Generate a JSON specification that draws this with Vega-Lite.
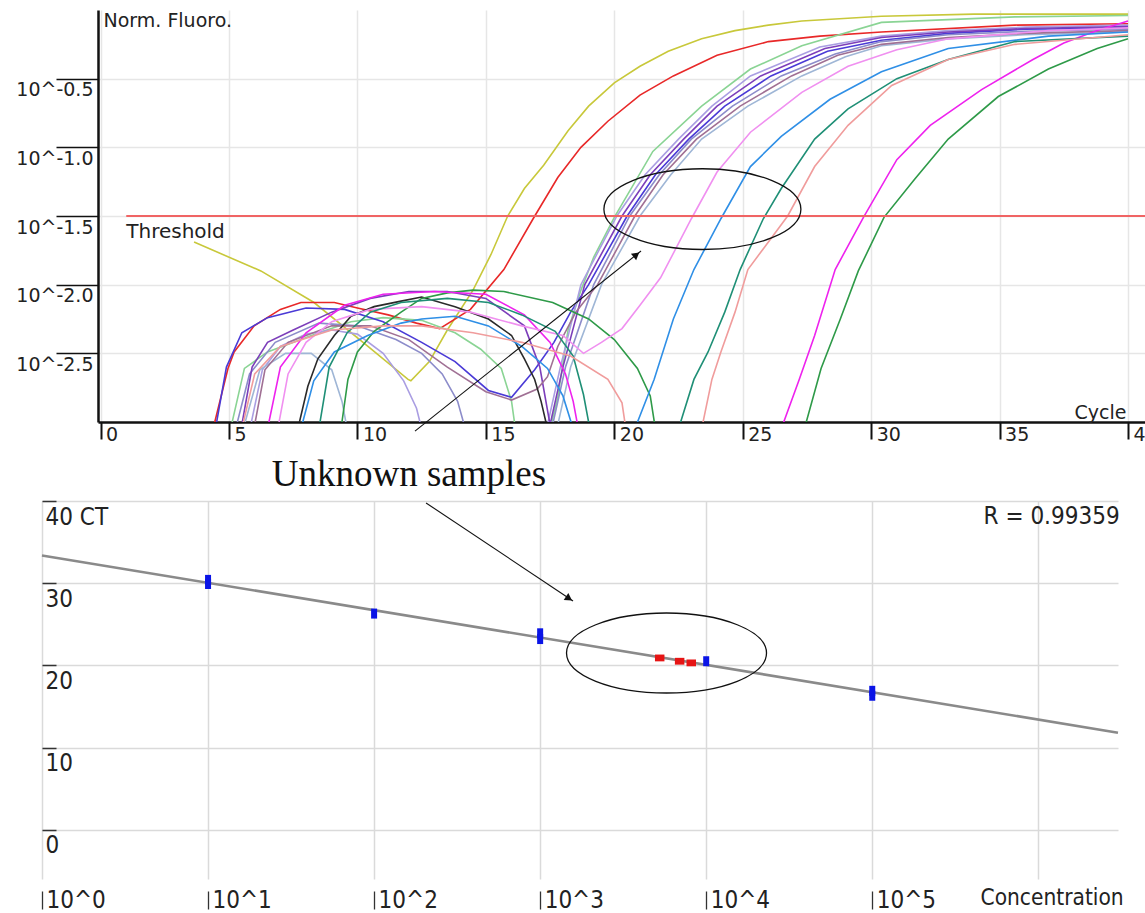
{
"$schema": "https://vega.github.io/schema/vega-lite/v6.json",
"background": "white",
"padding": {"left": 15, "top": 10, "right": 0, "bottom": 0},
"config": {"view": {"stroke": null}},
"resolve": {"scale": {"color": "independent", "shape": "independent"}},
"datasets": {
"curves": [
{"s":"yellow","c":3.64,"f":-1.69},{"s":"yellow","c":6.24,"f":-1.9},{"s":"yellow","c":8.31,"f":-2.13},{"s":"yellow","c":10.41,"f":-2.45},{"s":"yellow","c":11.97,"f":-2.69},{"s":"yellow","c":12.08,"f":-2.7},{"s":"yellow","c":12.8,"f":-2.56},{"s":"yellow","c":13.5,"f":-2.33},{"s":"yellow","c":14.5,"f":-2.04},{"s":"yellow","c":15.2,"f":-1.78},{"s":"yellow","c":15.85,"f":-1.5},{"s":"yellow","c":16.5,"f":-1.3},{"s":"yellow","c":17.25,"f":-1.13},{"s":"yellow","c":18.2,"f":-0.88},{"s":"yellow","c":19,"f":-0.7},{"s":"yellow","c":20,"f":-0.53},{"s":"yellow","c":21,"f":-0.41},{"s":"yellow","c":22.1,"f":-0.3},{"s":"yellow","c":23.4,"f":-0.21},{"s":"yellow","c":24.7,"f":-0.15},{"s":"yellow","c":26,"f":-0.11},{"s":"yellow","c":27.3,"f":-0.08},{"s":"yellow","c":30.4,"f":-0.045},{"s":"yellow","c":34,"f":-0.03},{"s":"yellow","c":40,"f":-0.03},
{"s":"red","c":4.42,"f":-3.02},{"s":"red","c":4.96,"f":-2.61},{"s":"red","c":5.2,"f":-2.49},{"s":"red","c":5.98,"f":-2.3},{"s":"red","c":7.0,"f":-2.18},{"s":"red","c":7.8,"f":-2.13},{"s":"red","c":9.1,"f":-2.13},{"s":"red","c":10.0,"f":-2.17},{"s":"red","c":11.2,"f":-2.22},{"s":"red","c":12.3,"f":-2.28},{"s":"red","c":13.2,"f":-2.32},{"s":"red","c":14.4,"f":-2.18},{"s":"red","c":15.7,"f":-1.89},{"s":"red","c":16.84,"f":-1.52},{"s":"red","c":17.8,"f":-1.22},{"s":"red","c":18.7,"f":-1.0},{"s":"red","c":19.75,"f":-0.81},{"s":"red","c":21,"f":-0.62},{"s":"red","c":22.3,"f":-0.48},{"s":"red","c":24,"f":-0.33},{"s":"red","c":26,"f":-0.23},{"s":"red","c":28,"f":-0.19},{"s":"red","c":30.4,"f":-0.16},{"s":"red","c":35.6,"f":-0.11},{"s":"red","c":40,"f":-0.1},
{"s":"lgreen","c":5.1,"f":-3.02},{"s":"lgreen","c":5.6,"f":-2.61},{"s":"lgreen","c":6.5,"f":-2.49},{"s":"lgreen","c":8.5,"f":-2.35},{"s":"lgreen","c":9.75,"f":-2.27},{"s":"lgreen","c":11,"f":-2.24},{"s":"lgreen","c":12.5,"f":-2.26},{"s":"lgreen","c":13.8,"f":-2.35},{"s":"lgreen","c":14.8,"f":-2.47},{"s":"lgreen","c":15.6,"f":-2.61},{"s":"lgreen","c":16,"f":-2.85},{"s":"lgreen","c":16.15,"f":-3.05},{"s":"lgreen","c":16.8,"f":-3.6},{"s":"lgreen","c":17.5,"f":-3.05},{"s":"lgreen","c":17.8,"f":-2.82},{"s":"lgreen","c":18.2,"f":-2.33},{"s":"lgreen","c":18.7,"f":-2.04},{"s":"lgreen","c":19.2,"f":-1.8},{"s":"lgreen","c":20,"f":-1.51},{"s":"lgreen","c":21.5,"f":-1.03},{"s":"lgreen","c":23.4,"f":-0.7},{"s":"lgreen","c":25.3,"f":-0.43},{"s":"lgreen","c":27.3,"f":-0.26},{"s":"lgreen","c":30.4,"f":-0.09},{"s":"lgreen","c":35.6,"f":-0.05},{"s":"lgreen","c":40,"f":-0.04},
{"s":"c1","c":4.5,"f":-3.02},{"s":"c1","c":4.9,"f":-2.6},{"s":"c1","c":5.5,"f":-2.35},{"s":"c1","c":6.5,"f":-2.24},{"s":"c1","c":8,"f":-2.17},{"s":"c1","c":9.5,"f":-2.18},{"s":"c1","c":11,"f":-2.27},{"s":"c1","c":12.5,"f":-2.42},{"s":"c1","c":13.8,"f":-2.56},{"s":"c1","c":15.1,"f":-2.77},{"s":"c1","c":16,"f":-2.82},{"s":"c1","c":16.9,"f":-2.62},{"s":"c1","c":17.65,"f":-2.42},{"s":"c1","c":18.3,"f":-2.2},{"s":"c1","c":19,"f":-2.0},{"s":"c1","c":20.5,"f":-1.5},{"s":"c1","c":21.6,"f":-1.2},{"s":"c1","c":22.9,"f":-0.94},{"s":"c1","c":24.3,"f":-0.7},{"s":"c1","c":26.1,"f":-0.48},{"s":"c1","c":28.3,"f":-0.3},{"s":"c1","c":30.4,"f":-0.22},{"s":"c1","c":33,"f":-0.17},{"s":"c1","c":36,"f":-0.14},{"s":"c1","c":40,"f":-0.13},
{"s":"c2","c":5.85,"f":-3.02},{"s":"c2","c":6.3,"f":-2.62},{"s":"c2","c":7,"f":-2.45},{"s":"c2","c":8,"f":-2.36},{"s":"c2","c":9,"f":-2.33},{"s":"c2","c":10,"f":-2.36},{"s":"c2","c":11,"f":-2.5},{"s":"c2","c":11.8,"f":-2.7},{"s":"c2","c":12.3,"f":-2.9},{"s":"c2","c":12.5,"f":-3.05},{"s":"c2","c":15,"f":-3.6},{"s":"c2","c":17.4,"f":-3.02},{"s":"c2","c":17.9,"f":-2.6},{"s":"c2","c":18.7,"f":-2.0},{"s":"c2","c":20.1,"f":-1.5},{"s":"c2","c":21.2,"f":-1.2},{"s":"c2","c":22.5,"f":-0.94},{"s":"c2","c":23.8,"f":-0.7},{"s":"c2","c":25.3,"f":-0.48},{"s":"c2","c":28,"f":-0.27},{"s":"c2","c":30.4,"f":-0.19},{"s":"c2","c":33,"f":-0.15},{"s":"c2","c":36,"f":-0.125},{"s":"c2","c":40,"f":-0.11},
{"s":"c3","c":5.3,"f":-3.02},{"s":"c3","c":5.8,"f":-2.65},{"s":"c3","c":6.8,"f":-2.42},{"s":"c3","c":8.5,"f":-2.28},{"s":"c3","c":10,"f":-2.3},{"s":"c3","c":11.5,"f":-2.4},{"s":"c3","c":12.5,"f":-2.5},{"s":"c3","c":13.3,"f":-2.65},{"s":"c3","c":13.9,"f":-2.85},{"s":"c3","c":14.2,"f":-3.05},{"s":"c3","c":16,"f":-3.6},{"s":"c3","c":17.6,"f":-3.02},{"s":"c3","c":18.1,"f":-2.6},{"s":"c3","c":19.2,"f":-2.0},{"s":"c3","c":20.6,"f":-1.5},{"s":"c3","c":21.75,"f":-1.2},{"s":"c3","c":23.0,"f":-0.94},{"s":"c3","c":24.6,"f":-0.7},{"s":"c3","c":26.5,"f":-0.48},{"s":"c3","c":28.6,"f":-0.32},{"s":"c3","c":30.4,"f":-0.23},{"s":"c3","c":33,"f":-0.18},{"s":"c3","c":36,"f":-0.155},{"s":"c3","c":40,"f":-0.14},
{"s":"c4","c":5.6,"f":-3.02},{"s":"c4","c":6.2,"f":-2.62},{"s":"c4","c":7.2,"f":-2.5},{"s":"c4","c":8.2,"f":-2.5},{"s":"c4","c":9,"f":-2.62},{"s":"c4","c":9.4,"f":-2.85},{"s":"c4","c":9.6,"f":-3.05},{"s":"c4","c":13,"f":-3.6},{"s":"c4","c":17.8,"f":-3.02},{"s":"c4","c":18.3,"f":-2.6},{"s":"c4","c":19.5,"f":-2.0},{"s":"c4","c":21.0,"f":-1.5},{"s":"c4","c":22.2,"f":-1.2},{"s":"c4","c":23.4,"f":-0.94},{"s":"c4","c":25.2,"f":-0.7},{"s":"c4","c":27.3,"f":-0.48},{"s":"c4","c":29,"f":-0.34},{"s":"c4","c":30.4,"f":-0.26},{"s":"c4","c":33,"f":-0.21},{"s":"c4","c":36,"f":-0.18},{"s":"c4","c":40,"f":-0.16},
{"s":"c5","c":5.5,"f":-3.02},{"s":"c5","c":5.9,"f":-2.6},{"s":"c5","c":6.5,"f":-2.42},{"s":"c5","c":7.5,"f":-2.33},{"s":"c5","c":9,"f":-2.2},{"s":"c5","c":10.5,"f":-2.1},{"s":"c5","c":12,"f":-2.05},{"s":"c5","c":13.5,"f":-2.05},{"s":"c5","c":15,"f":-2.1},{"s":"c5","c":16.5,"f":-2.3},{"s":"c5","c":17.1,"f":-2.6},{"s":"c5","c":17.5,"f":-3.02},{"s":"c5","c":18.0,"f":-2.6},{"s":"c5","c":18.85,"f":-2.0},{"s":"c5","c":20.3,"f":-1.5},{"s":"c5","c":21.4,"f":-1.2},{"s":"c5","c":22.7,"f":-0.94},{"s":"c5","c":24.0,"f":-0.7},{"s":"c5","c":25.7,"f":-0.48},{"s":"c5","c":28.2,"f":-0.28},{"s":"c5","c":30.4,"f":-0.2},{"s":"c5","c":33,"f":-0.16},{"s":"c5","c":36,"f":-0.135},{"s":"c5","c":40,"f":-0.12},
{"s":"c6","c":6.0,"f":-3.02},{"s":"c6","c":6.4,"f":-2.62},{"s":"c6","c":7.3,"f":-2.42},{"s":"c6","c":9,"f":-2.3},{"s":"c6","c":10.5,"f":-2.3},{"s":"c6","c":12,"f":-2.4},{"s":"c6","c":13.5,"f":-2.6},{"s":"c6","c":15,"f":-2.78},{"s":"c6","c":16,"f":-2.84},{"s":"c6","c":17,"f":-2.76},{"s":"c6","c":17.4,"f":-2.67},{"s":"c6","c":17.8,"f":-2.45},{"s":"c6","c":18.5,"f":-2.2},{"s":"c6","c":19.35,"f":-2.0},{"s":"c6","c":20.8,"f":-1.5},{"s":"c6","c":21.9,"f":-1.2},{"s":"c6","c":23.2,"f":-0.94},{"s":"c6","c":24.9,"f":-0.7},{"s":"c6","c":26.9,"f":-0.48},{"s":"c6","c":28.7,"f":-0.33},{"s":"c6","c":30.4,"f":-0.25},{"s":"c6","c":33,"f":-0.2},{"s":"c6","c":36,"f":-0.17},{"s":"c6","c":40,"f":-0.15},
{"s":"black","c":7.68,"f":-3.05},{"s":"black","c":8.07,"f":-2.74},{"s":"black","c":8.46,"f":-2.54},{"s":"black","c":9.1,"f":-2.37},{"s":"black","c":9.75,"f":-2.23},{"s":"black","c":10.65,"f":-2.16},{"s":"black","c":11.7,"f":-2.12},{"s":"black","c":12.5,"f":-2.09},{"s":"black","c":13.8,"f":-2.16},{"s":"black","c":15.1,"f":-2.25},{"s":"black","c":16,"f":-2.37},{"s":"black","c":16.5,"f":-2.54},{"s":"black","c":16.9,"f":-2.69},{"s":"black","c":17.15,"f":-2.85},{"s":"black","c":17.4,"f":-3.05},
{"s":"green","c":9.36,"f":-3.05},{"s":"green","c":9.63,"f":-2.69},{"s":"green","c":10.0,"f":-2.49},{"s":"green","c":10.65,"f":-2.34},{"s":"green","c":11.7,"f":-2.2},{"s":"green","c":12.5,"f":-2.1},{"s":"green","c":13.5,"f":-2.06},{"s":"green","c":14.5,"f":-2.04},{"s":"green","c":15.7,"f":-2.05},{"s":"green","c":17.6,"f":-2.13},{"s":"green","c":19,"f":-2.25},{"s":"green","c":20,"f":-2.4},{"s":"green","c":20.9,"f":-2.61},{"s":"green","c":21.4,"f":-2.81},{"s":"green","c":21.6,"f":-3.05},{"s":"green","c":24.5,"f":-3.6},{"s":"green","c":27.4,"f":-3.05},{"s":"green","c":28.05,"f":-2.61},{"s":"green","c":28.8,"f":-2.25},{"s":"green","c":29.5,"f":-1.9},{"s":"green","c":30.5,"f":-1.51},{"s":"green","c":31.7,"f":-1.23},{"s":"green","c":33,"f":-0.94},{"s":"green","c":34.95,"f":-0.63},{"s":"green","c":36.9,"f":-0.43},{"s":"green","c":38.8,"f":-0.28},{"s":"green","c":40,"f":-0.21},
{"s":"magenta","c":6.5,"f":-3.05},{"s":"magenta","c":7.0,"f":-2.6},{"s":"magenta","c":8.0,"f":-2.35},{"s":"magenta","c":9.5,"f":-2.15},{"s":"magenta","c":11,"f":-2.07},{"s":"magenta","c":13,"f":-2.05},{"s":"magenta","c":15,"f":-2.07},{"s":"magenta","c":16.5,"f":-2.22},{"s":"magenta","c":17.5,"f":-2.42},{"s":"magenta","c":18.1,"f":-2.65},{"s":"magenta","c":18.4,"f":-2.85},{"s":"magenta","c":18.6,"f":-3.05},{"s":"magenta","c":22.5,"f":-3.6},{"s":"magenta","c":26.5,"f":-3.05},{"s":"magenta","c":27.2,"f":-2.69},{"s":"magenta","c":27.8,"f":-2.37},{"s":"magenta","c":28.6,"f":-1.89},{"s":"magenta","c":29.7,"f":-1.51},{"s":"magenta","c":31,"f":-1.09},{"s":"magenta","c":32.3,"f":-0.84},{"s":"magenta","c":34.3,"f":-0.58},{"s":"magenta","c":36.3,"f":-0.36},{"s":"magenta","c":37.5,"f":-0.24},{"s":"magenta","c":38.8,"f":-0.15},{"s":"magenta","c":40,"f":-0.08},
{"s":"pink","c":6.9,"f":-3.05},{"s":"pink","c":7.3,"f":-2.65},{"s":"pink","c":8,"f":-2.42},{"s":"pink","c":9,"f":-2.27},{"s":"pink","c":10.5,"f":-2.18},{"s":"pink","c":12.5,"f":-2.16},{"s":"pink","c":14.4,"f":-2.2},{"s":"pink","c":16.4,"f":-2.3},{"s":"pink","c":18,"f":-2.37},{"s":"pink","c":18.8,"f":-2.5},{"s":"pink","c":19.5,"f":-2.42},{"s":"pink","c":20.3,"f":-2.32},{"s":"pink","c":21,"f":-2.15},{"s":"pink","c":21.8,"f":-1.95},{"s":"pink","c":22.5,"f":-1.7},{"s":"pink","c":23,"f":-1.52},{"s":"pink","c":24,"f":-1.18},{"s":"pink","c":25.3,"f":-0.89},{"s":"pink","c":27.3,"f":-0.6},{"s":"pink","c":29.1,"f":-0.41},{"s":"pink","c":31,"f":-0.29},{"s":"pink","c":33,"f":-0.21},{"s":"pink","c":36.9,"f":-0.15},{"s":"pink","c":40,"f":-0.13},
{"s":"blue","c":7.8,"f":-3.05},{"s":"blue","c":8.3,"f":-2.7},{"s":"blue","c":9.1,"f":-2.49},{"s":"blue","c":10.4,"f":-2.37},{"s":"blue","c":11.7,"f":-2.28},{"s":"blue","c":12.5,"f":-2.25},{"s":"blue","c":13.8,"f":-2.23},{"s":"blue","c":15.1,"f":-2.3},{"s":"blue","c":16.4,"f":-2.45},{"s":"blue","c":17.4,"f":-2.61},{"s":"blue","c":18.0,"f":-2.81},{"s":"blue","c":18.4,"f":-3.05},{"s":"blue","c":19.6,"f":-3.6},{"s":"blue","c":20.8,"f":-3.05},{"s":"blue","c":21.55,"f":-2.69},{"s":"blue","c":22.3,"f":-2.25},{"s":"blue","c":23.1,"f":-1.89},{"s":"blue","c":24.15,"f":-1.52},{"s":"blue","c":25.3,"f":-1.14},{"s":"blue","c":26.5,"f":-0.92},{"s":"blue","c":28.4,"f":-0.65},{"s":"blue","c":30.4,"f":-0.45},{"s":"blue","c":33,"f":-0.28},{"s":"blue","c":36.9,"f":-0.19},{"s":"blue","c":40,"f":-0.16},
{"s":"teal","c":8.5,"f":-3.05},{"s":"teal","c":8.9,"f":-2.6},{"s":"teal","c":9.6,"f":-2.35},{"s":"teal","c":10.5,"f":-2.2},{"s":"teal","c":11.7,"f":-2.13},{"s":"teal","c":13.5,"f":-2.1},{"s":"teal","c":15.1,"f":-2.13},{"s":"teal","c":16.4,"f":-2.22},{"s":"teal","c":17.7,"f":-2.34},{"s":"teal","c":18.4,"f":-2.52},{"s":"teal","c":18.8,"f":-2.8},{"s":"teal","c":19.05,"f":-3.05},{"s":"teal","c":20.8,"f":-3.6},{"s":"teal","c":22.5,"f":-3.05},{"s":"teal","c":23.1,"f":-2.69},{"s":"teal","c":23.65,"f":-2.49},{"s":"teal","c":24.3,"f":-2.2},{"s":"teal","c":24.9,"f":-1.89},{"s":"teal","c":25.8,"f":-1.52},{"s":"teal","c":26.5,"f":-1.3},{"s":"teal","c":27.8,"f":-0.94},{"s":"teal","c":29.1,"f":-0.72},{"s":"teal","c":31,"f":-0.5},{"s":"teal","c":33,"f":-0.36},{"s":"teal","c":35.6,"f":-0.23},{"s":"teal","c":40,"f":-0.19},
{"s":"salmon","c":5.5,"f":-3.05},{"s":"salmon","c":6,"f":-2.65},{"s":"salmon","c":7,"f":-2.45},{"s":"salmon","c":9,"f":-2.33},{"s":"salmon","c":11,"f":-2.3},{"s":"salmon","c":12.5,"f":-2.3},{"s":"salmon","c":14.5,"f":-2.35},{"s":"salmon","c":16.4,"f":-2.42},{"s":"salmon","c":18.3,"f":-2.52},{"s":"salmon","c":19.75,"f":-2.69},{"s":"salmon","c":20.3,"f":-2.86},{"s":"salmon","c":20.45,"f":-3.05},{"s":"salmon","c":22,"f":-3.6},{"s":"salmon","c":23.4,"f":-3.05},{"s":"salmon","c":23.8,"f":-2.69},{"s":"salmon","c":24.15,"f":-2.49},{"s":"salmon","c":24.7,"f":-2.2},{"s":"salmon","c":25.2,"f":-1.89},{"s":"salmon","c":26.75,"f":-1.5},{"s":"salmon","c":27.8,"f":-1.14},{"s":"salmon","c":29.1,"f":-0.84},{"s":"salmon","c":30.8,"f":-0.55},{"s":"salmon","c":33,"f":-0.36},{"s":"salmon","c":35.6,"f":-0.25},{"s":"salmon","c":40,"f":-0.18}
],
"threshold": [{"c":1.0,"c2":40.7,"f":-1.5}],
"thresholdLabel": [{"c":1.0,"f":-1.545,"label":"Threshold"}],
"ring1": [{"c":23.43,"f":-1.45}],
"arrow1": [{"c":12.24,"f":-3.066},{"c":21.04,"f":-1.755}],
"head1": [{"c":20.86,"f":-1.782}],
"fit": [{"logc":0,"ct":33.37},{"logc":6.48,"ct":11.8}],
"cts": [
{"logc":1,"ct":30.4,"kind":"standard"},{"logc":1,"ct":29.9,"kind":"standard"},{"logc":2,"ct":26.3,"kind":"standard"},{"logc":3,"ct":23.9,"kind":"standard"},{"logc":3,"ct":23.2,"kind":"standard"},{"logc":4,"ct":20.5,"kind":"standard"},{"logc":5,"ct":16.9,"kind":"standard"},{"logc":5,"ct":16.3,"kind":"standard"},
{"logc":3.72,"ct":20.9,"kind":"unknown"},{"logc":3.84,"ct":20.5,"kind":"unknown"},{"logc":3.91,"ct":20.3,"kind":"unknown"}
],
"ring2": [{"logc":3.761,"ct":21.5}],
"arrow2": [{"logc":2.313,"ct":39.76},{"logc":3.198,"ct":27.84}],
"head2": [{"logc":3.174,"ct":28.14}],
"rnote": [{"logc":6.49,"ct":39.5,"label":"R = 0.99359"}],
"callout": [{"logc":2.21,"ct":41.8,"label":"Unknown samples"}]
},
"vconcat": [
{
"hconcat": [
{"width": 56, "height": 1, "data": {"values": []}, "mark": {"type": "text"}},
{
"width": 1048, "height": 412,
"layer": [
{
"data": {"name": "curves"},
"mark": {"type": "line", "clip": true, "strokeWidth": 1.6},
"encoding": {
"x": {"field": "c", "type": "quantitative", "scale": {"domain": [-0.1, 40.7], "nice": false, "zero": false},
"axis": {"values": [0,5,10,15,20,25,30,35,40], "format": "d", "title": "Cycle", "titleX": 976, "titleY": -19, "titleAlign": "left", "titleBaseline": "top", "titleFont": "DejaVu Sans", "titleFontSize": 19, "titleFontWeight": "normal", "titleColor": "#222",
"labelAlign": "left", "labelBaseline": "top", "labelOffset": 5, "labelPadding": -14, "labelFont": "DejaVu Sans", "labelFontSize": 19, "labelColor": "#222", "labelFlush": false, "labelOverlap": false, "labelBound": false,
"tickSize": 17, "tickWidth": 2, "tickColor": "#111", "domainColor": "#111", "domainWidth": 2.5, "grid": true, "gridColor": "#e6e6e6", "gridWidth": 1.5}},
"y": {"field": "f", "type": "quantitative", "scale": {"domain": [-3, 0], "nice": false, "zero": false},
"axis": {"values": [-2.5,-2,-1.5,-1,-0.5], "labelExpr": "'10^-' + format(-datum.value, '.1f')", "title": "Norm. Fluoro.", "titleAngle": 0, "titleX": 5, "titleY": 1, "titleAlign": "left", "titleBaseline": "top", "titleFont": "DejaVu Sans", "titleFontSize": 19, "titleFontWeight": "normal", "titleColor": "#222",
"labelAlign": "right", "labelBaseline": "top", "labelOffset": 2, "labelPadding": -37, "labelFont": "DejaVu Sans", "labelFontSize": 19, "labelColor": "#222", "labelFlush": false, "labelOverlap": false, "labelBound": false,
"tickSize": 42, "tickWidth": 1.5, "tickColor": "#111", "domainColor": "#111", "domainWidth": 2.5, "grid": true, "gridColor": "#e6e6e6", "gridWidth": 1.5}},
"color": {"field": "s", "type": "nominal", "legend": null,
"scale": {"domain": ["yellow","red","lgreen","c1","c2","c3","c4","c5","c6","black","green","magenta","pink","blue","teal","salmon"],
"range": ["#c8c83a","#e82828","#8ad494","#4a3ad6","#aa9ee2","#8c8cca","#9fb6d6","#7c3eba","#a07094","#2a2a2a","#2e9a48","#ee22ee","#f090f0","#2f8fe6","#1f8f76","#f09c9c"]}}
}
},
{
"data": {"name": "threshold"},
"mark": {"type": "rule", "color": "#f06464", "strokeWidth": 2.2},
"encoding": {"x": {"field": "c", "type": "quantitative"}, "x2": {"field": "c2"}, "y": {"field": "f", "type": "quantitative"}}
},
{
"data": {"name": "thresholdLabel"},
"mark": {"type": "text", "align": "left", "baseline": "top", "font": "DejaVu Sans", "fontSize": 20, "color": "#222"},
"encoding": {"x": {"field": "c", "type": "quantitative"}, "y": {"field": "f", "type": "quantitative"}, "text": {"field": "label"}}
},
{
"data": {"name": "ring1"},
"mark": {"type": "point", "shape": "M-1,0A1,0.41 0 1,0 1,0A1,0.41 0 1,0 -1,0Z", "size": 38809, "filled": false, "stroke": "#111", "strokeWidth": 1.3, "opacity": 1},
"encoding": {"x": {"field": "c", "type": "quantitative"}, "y": {"field": "f", "type": "quantitative"}}
},
{
"data": {"name": "arrow1"},
"mark": {"type": "line", "color": "#111", "strokeWidth": 1.1, "clip": false},
"encoding": {"x": {"field": "c", "type": "quantitative"}, "y": {"field": "f", "type": "quantitative"}}
},
{
"data": {"name": "head1"},
"mark": {"type": "point", "shape": "triangle-up", "filled": true, "color": "#111", "size": 70, "angle": 51.5, "opacity": 1},
"encoding": {"x": {"field": "c", "type": "quantitative"}, "y": {"field": "f", "type": "quantitative"}}
}
]
}
],
"spacing": 0,
"bounds": "flush"
},
{
"width": 1076, "height": 378,
"layer": [
{
"data": {"name": "fit"},
"mark": {"type": "line", "color": "#8a8a8a", "strokeWidth": 2.6},
"encoding": {
"x": {"field": "logc", "type": "quantitative", "scale": {"domain": [0, 6.48], "nice": false, "zero": false},
"axis": {"values": [0,1,2,3,4,5,6], "labelExpr": "datum.value < 6 ? '10^' + datum.value : ''", "grid": true, "gridColor": "#dadada", "gridWidth": 1.5, "domain": false,
"ticks": true, "tickSize": 18, "tickWidth": 1.3, "tickColor": "#333", "tickOpacity": {"condition": {"test": "datum.value == 6", "value": 0}, "value": 1}, "offset": 12,
"labelAlign": "left", "labelBaseline": "top", "labelOffset": 4, "labelPadding": -21, "labelFont": "'DejaVu Sans Condensed', 'Liberation Sans', sans-serif", "labelFontSize": 24, "labelColor": "#222", "labelFlush": false, "labelOverlap": false, "labelBound": false,
"title": "Concentration", "titleX": 938, "titleY": -5, "titleAlign": "left", "titleBaseline": "top", "titleFont": "'DejaVu Sans Condensed', 'Liberation Sans', sans-serif", "titleFontSize": 22.5, "titleFontWeight": "normal", "titleColor": "#222"}},
"y": {"field": "ct", "type": "quantitative", "scale": {"domain": [-6, 40], "nice": false, "zero": false},
"axis": {"values": [0,10,20,30,40], "labelExpr": "datum.value == 40 ? '40 CT' : datum.label", "grid": true, "gridColor": "#dadada", "gridWidth": 1.5, "domain": false,
"ticks": true, "tickSize": -14, "tickWidth": 1.5, "tickColor": "#333",
"labelAlign": "left", "labelBaseline": "top", "labelOffset": 4, "labelPadding": 11, "labelFont": "'DejaVu Sans Condensed', 'Liberation Sans', sans-serif", "labelFontSize": 24, "labelColor": "#222", "labelFlush": false, "labelOverlap": false, "labelBound": false,
"title": null}}
}
},
{
"data": {"name": "cts"},
"mark": {"type": "point", "filled": true, "size": 100, "opacity": 1},
"encoding": {
"x": {"field": "logc", "type": "quantitative"}, "y": {"field": "ct", "type": "quantitative"},
"shape": {"field": "kind", "type": "nominal", "legend": null, "scale": {"domain": ["standard","unknown"], "range": ["M-0.6,-1H0.6V1H-0.6Z", "M-0.95,-0.68H0.95V0.68H-0.95Z"]}},
"color": {"field": "kind", "type": "nominal", "legend": null, "scale": {"domain": ["standard","unknown"], "range": ["#0a14e6", "#e61414"]}}
}
},
{
"data": {"name": "ring2"},
"mark": {"type": "point", "shape": "M-1,0A1,0.4 0 1,0 1,0A1,0.4 0 1,0 -1,0Z", "size": 40000, "filled": false, "stroke": "#111", "strokeWidth": 1.3, "opacity": 1},
"encoding": {"x": {"field": "logc", "type": "quantitative"}, "y": {"field": "ct", "type": "quantitative"}}
},
{
"data": {"name": "arrow2"},
"mark": {"type": "line", "color": "#111", "strokeWidth": 1.1, "clip": false},
"encoding": {"x": {"field": "logc", "type": "quantitative"}, "y": {"field": "ct", "type": "quantitative"}}
},
{
"data": {"name": "head2"},
"mark": {"type": "point", "shape": "triangle-up", "filled": true, "color": "#111", "size": 70, "angle": 123.7, "opacity": 1},
"encoding": {"x": {"field": "logc", "type": "quantitative"}, "y": {"field": "ct", "type": "quantitative"}}
},
{
"data": {"name": "rnote"},
"mark": {"type": "text", "align": "right", "baseline": "top", "font": "'DejaVu Sans Condensed', 'Liberation Sans', sans-serif", "fontSize": 24, "color": "#222"},
"encoding": {"x": {"field": "logc", "type": "quantitative"}, "y": {"field": "ct", "type": "quantitative"}, "text": {"field": "label"}}
},
{
"data": {"name": "callout"},
"mark": {"type": "text", "align": "center", "baseline": "alphabetic", "font": "Liberation Serif", "fontSize": 37, "color": "#111"},
"encoding": {"x": {"field": "logc", "type": "quantitative"}, "y": {"field": "ct", "type": "quantitative"}, "text": {"field": "label"}}
}
]
}
],
"spacing": 12,
"bounds": "full"
}
